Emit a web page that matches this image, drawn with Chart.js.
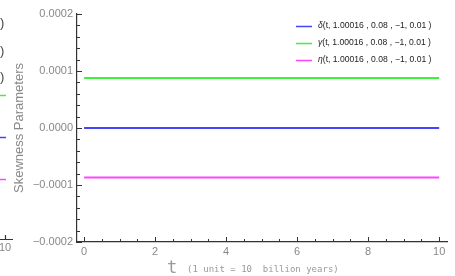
<!DOCTYPE html>
<html>
<head>
<meta charset="utf-8">
<script src="https://cdn.jsdelivr.net/npm/chart.js@4.4.1/dist/chart.umd.min.js"></script>
<style>
  html, body { margin: 0; padding: 0; background: #fff; }
  #wrap { width: 455px; height: 276px; position: relative; }
</style>
</head>
<body>
<div id="wrap"><canvas id="chart"></canvas></div>
<script>
// time axis (1 unit = 10 billion years)
const tValues = [0, 2, 4, 6, 8, 10];
const deltaValues = [0, 0, 0, 0, 0, 0];
const gammaValues = [0.0000876, 0.0000876, 0.0000876, 0.0000876, 0.0000876, 0.0000876];
const etaValues = [-0.0000870, -0.0000870, -0.0000870, -0.0000870, -0.0000870, -0.0000870];

const xTicks = [0, 2, 4, 6, 8, 10];
const yTicks = [-0.0002, -0.0001, 0, 0.0001, 0.0002];
const legendLabels = [
    ["\u03B4", "(t, 1.00016 , 0.08 , \u22121, 0.01 )"],
    ["\u03B3", "(t, 1.00016 , 0.08 , \u22121, 0.01 )"],
    ["\u03B7", "(t, 1.00016 , 0.08 , \u22121, 0.01 )"]
];

const sBlue = "#4444ff";
const sGreen = "#3cf23c";
const sMagenta = "#ff44ff";

function toPoints(aY) {
    return tValues.map((t, i) => ({ x: t, y: aY[i] }));
}

function fmtY(v) {
    if (Math.abs(v) < 1e-12) return "0.0000";
    let s = Math.abs(v).toFixed(4);
    return v < 0 ? "\u2212" + s : s;
}

// inward ticks, legend, x title and the clipped neighbour panel on the left
const decoPlugin = {
    id: "deco",
    afterDraw(chart) {
        const ctx = chart.ctx;
        const x = chart.scales.x, y = chart.scales.y;
        const area = chart.chartArea;
        ctx.save();
        ctx.strokeStyle = "#333";
        ctx.lineWidth = 1;

        // x ticks pointing up
        for (let t = 0; t <= 10.001; t += 0.5) {
            let px = Math.round(x.getPixelForValue(t)) + 0.5;
            let len = (Math.abs(t / 2 - Math.round(t / 2)) < 1e-6) ? 5 : 3;
            ctx.beginPath();
            ctx.moveTo(px, area.bottom);
            ctx.lineTo(px, area.bottom - len);
            ctx.stroke();
        }
        // y ticks pointing right
        for (let k = -10; k <= 10; k++) {
            let v = k * 0.00002;
            let py = Math.round(y.getPixelForValue(v)) + 0.5;
            let len = (k % 5 === 0) ? 5 : 3;
            ctx.beginPath();
            ctx.moveTo(area.left, py);
            ctx.lineTo(area.left + len, py);
            ctx.stroke();
        }

        // legend
        const aColors = [sBlue, sGreen, sMagenta];
        const aRows = [26, 43, 60];
        ctx.textBaseline = "middle";
        legendLabels.forEach((aLab, i) => {
            ctx.strokeStyle = aColors[i];
            ctx.lineWidth = 1.5;
            ctx.beginPath();
            ctx.moveTo(296, aRows[i] + 0.5);
            ctx.lineTo(312, aRows[i] + 0.5);
            ctx.stroke();
            ctx.fillStyle = "#222";
            ctx.font = "italic 8.6px 'Liberation Sans', Arial, sans-serif";
            ctx.fillText(aLab[0], 318, aRows[i]);
            let w = ctx.measureText(aLab[0]).width;
            ctx.font = "8.6px 'Liberation Sans', Arial, sans-serif";
            ctx.fillText(aLab[1], 318 + w, aRows[i]);
        });

        // x axis title
        ctx.fillStyle = "#999";
        ctx.textBaseline = "alphabetic";
        ctx.font = "17px 'DejaVu Sans Mono', monospace";
        ctx.fillText("t", 167, 273);
        ctx.font = "9px 'DejaVu Sans Mono', monospace";
        ctx.fillText("(1 unit = 10  billion years)", 187, 272);

        // clipped neighbour panel
        ctx.fillStyle = "#444";
        ctx.font = "13px 'Liberation Sans', Arial, sans-serif";
        ctx.textBaseline = "middle";
        [23, 51, 77].forEach(py => ctx.fillText(")", 0, py));
        ctx.lineWidth = 1.5;
        [[sGreen, 95], [sBlue, 137], [sMagenta, 179]].forEach(a => {
            ctx.strokeStyle = a[0];
            ctx.beginPath();
            ctx.moveTo(0, a[1] + 0.5);
            ctx.lineTo(6, a[1] + 0.5);
            ctx.stroke();
        });
        ctx.strokeStyle = "#333";
        ctx.lineWidth = 1.2;
        ctx.beginPath();
        ctx.moveTo(0, 239.5); ctx.lineTo(13, 239.5);
        ctx.moveTo(5.5, 239.5); ctx.lineTo(5.5, 235);
        ctx.stroke();
        ctx.fillStyle = "#888";
        ctx.font = "11px 'Liberation Sans', Arial, sans-serif";
        ctx.fillText("10", -1, 248);
        ctx.restore();
    }
};

const oLineStyle = { borderWidth: 2, pointRadius: 0, fill: false, tension: 0 };

new Chart(document.getElementById("chart"), {
    type: "line",
    data: {
        datasets: [
            Object.assign({ label: "delta", data: toPoints(deltaValues), borderColor: sBlue }, oLineStyle),
            Object.assign({ label: "gamma", data: toPoints(gammaValues), borderColor: sGreen }, oLineStyle),
            Object.assign({ label: "eta", data: toPoints(etaValues), borderColor: sMagenta }, oLineStyle)
        ]
    },
    options: {
        responsive: true,
        maintainAspectRatio: false,
        animation: false,
        layout: { padding: { left: 0, right: 8, top: 14, bottom: 0 } },
        plugins: { legend: { display: false }, tooltip: { enabled: false } },
        scales: {
            x: {
                type: "linear",
                min: -0.2,
                max: 10.22,
                afterBuildTicks: s => { s.ticks = xTicks.map(v => ({ value: v })); },
                afterFit: s => { s.height = 34; },
                grid: { drawOnChartArea: false, drawTicks: false },
                border: { color: "#333", width: 1.2 },
                ticks: {
                    color: "#888",
                    padding: 3,
                    maxRotation: 0,
                    font: { family: "'Liberation Sans', Arial, sans-serif", size: 11 },
                    callback: v => String(v)
                }
            },
            y: {
                min: -0.0002,
                max: 0.0002,
                afterBuildTicks: s => { s.ticks = yTicks.map(v => ({ value: v })); },
                afterFit: s => { s.width = 77; },
                grid: { drawOnChartArea: false, drawTicks: false },
                border: { color: "#333", width: 1.2 },
                ticks: {
                    color: "#888",
                    padding: 4,
                    font: { family: "'Liberation Sans', Arial, sans-serif", size: 11 },
                    callback: v => fmtY(v)
                },
                title: {
                    display: true,
                    text: "Skewness Parameters",
                    color: "#888",
                    padding: { top: 12, bottom: 0 },
                    font: { family: "'Liberation Sans', Arial, sans-serif", size: 13 }
                }
            }
        }
    },
    plugins: [decoPlugin]
});
</script>
</body>
</html>
